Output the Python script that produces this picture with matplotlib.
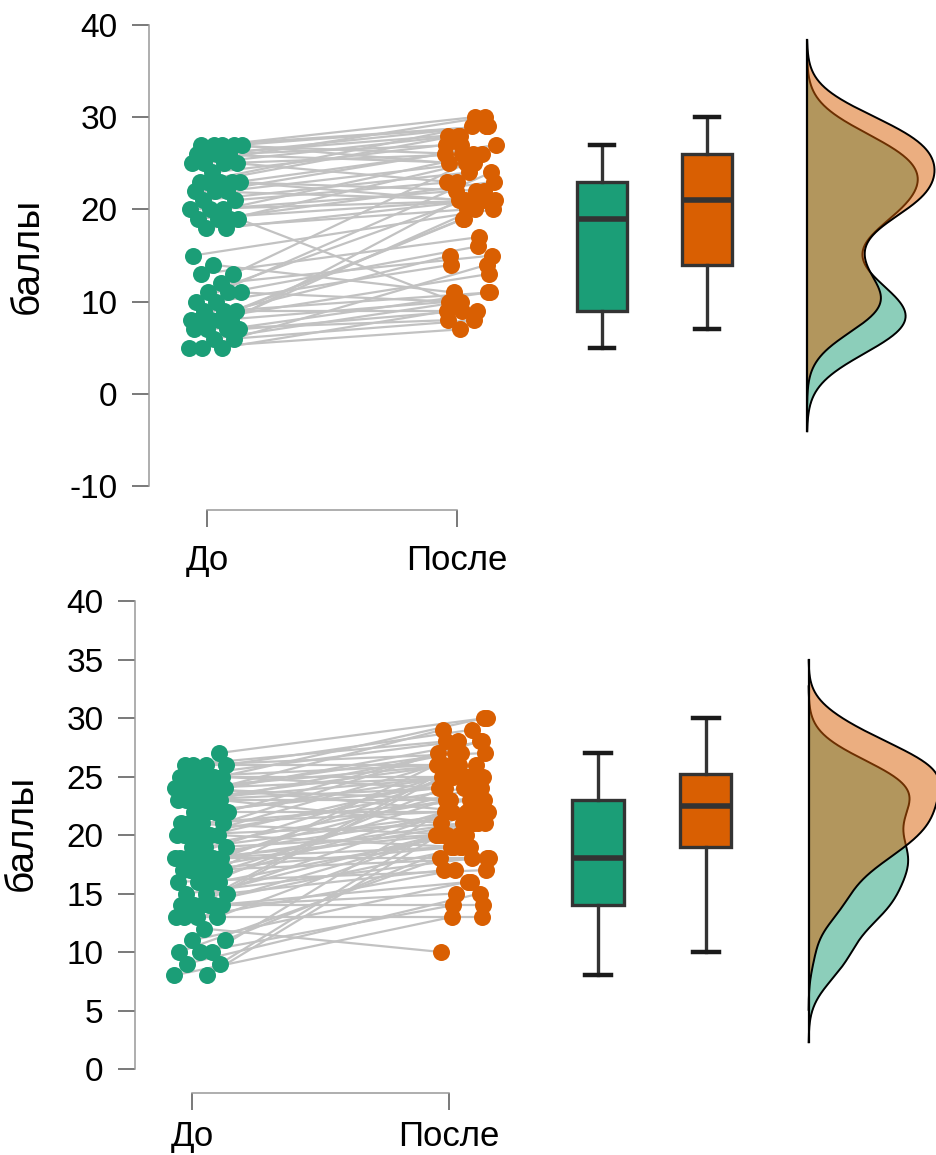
"""
raincloud-style before/after plot: paired dots, boxplots and half densities.
Two panels, same layout, different samples.
"""

import numpy as np
import matplotlib
matplotlib.use('Agg')
import matplotlib.pyplot as plt

plt.rcParams['font.family'] = ['Liberation Sans', 'DejaVu Sans']

GREEN = '#1b9e77'
ORANGE = '#d95f02'

group_labels = ['До', 'После']
y_label = 'баллы'

# top panel - paired scores, same index = same person
top_before = [5, 5, 5, 6, 6, 7, 7, 7, 7, 8, 8, 8, 8, 8, 9, 9, 9, 10, 10, 11, 11, 11, 12, 13, 13, 14, 15,
              18, 18, 19, 19, 19, 19, 20, 20, 20, 21, 21, 22, 22, 22, 23, 23, 23, 23, 23, 24,
              25, 25, 25, 25, 26, 26, 26, 26, 27, 27, 27, 27, 27]
top_after = [7, 9, 14, 8, 10, 8, 11, 20, 9, 10, 13, 22, 19, 15, 11, 9, 19, 14, 24, 16, 21, 10, 15, 17, 25, 11, 20,
             21, 20, 10, 23, 21, 25, 22, 21, 26, 24, 23, 27, 21, 25, 28, 26, 22, 29, 21, 27,
             30, 26, 28, 23, 29, 25, 27, 28, 29, 30, 26, 25, 29]
top_yticks = [-10, 0, 10, 20, 30, 40]

# bottom panel
bottom_before = [8, 8, 9, 9, 10, 10, 10, 11, 11, 12, 13, 13, 13, 13, 14, 14, 14, 14, 14, 14, 14,
                 15, 15, 15, 16, 16, 16, 16, 17, 17, 17, 17, 17, 18, 18, 18, 18, 18, 18, 18, 18,
                 19, 19, 19, 20, 20, 20, 20, 20, 21, 21, 21, 21, 22, 22, 22, 22,
                 23, 23, 23, 23, 23, 23, 24, 24, 24, 24, 24, 24, 24, 25, 25, 25, 25, 25,
                 26, 26, 26, 26, 27]
bottom_after = [13, 20, 15, 22, 14, 18, 24, 16, 19, 10, 13, 21, 17, 25, 14, 19, 15, 20, 23, 16, 26,
                17, 21, 18, 20, 22, 17, 25, 19, 23, 18, 21, 27, 20, 22, 24, 19, 25, 18, 26, 21,
                23, 20, 22, 24, 19, 26, 21, 25, 22, 27, 23, 20, 25, 24, 28, 22,
                26, 21, 23, 25, 27, 24, 28, 22, 26, 29, 25, 23, 27, 26, 30, 25, 28, 24,
                27, 29, 26, 28, 30]
bottom_yticks = [0, 5, 10, 15, 20, 25, 30, 35, 40]

W, H = 937, 1155


def kde(vals):
    # gaussian kde with R's default bandwidth (nrd0), cut = 3 bw
    v = np.asarray(vals, dtype=float)
    n = len(v)
    q75, q25 = np.percentile(v, [75, 25])
    bw = 0.9 * min(v.std(ddof=1), (q75 - q25) / 1.34) * n ** -0.2
    grid = np.linspace(v.min() - 3 * bw, v.max() + 3 * bw, 512)
    d = np.exp(-0.5 * ((grid[:, None] - v[None, :]) / bw) ** 2).sum(axis=1)
    d = d / (n * bw * np.sqrt(2 * np.pi))
    return grid, d


def draw_panel(ax, before, after, yticks, ylim, xlim, xpad=12):
    before = np.asarray(before)
    after = np.asarray(after)
    n = len(before)

    # jitter so the dots don't sit on top of each other
    idx = np.arange(n)
    jit1 = -0.07 + 0.21 * ((idx * 0.618034) % 1)
    jit2 = -0.05 + 0.21 * ((idx * 0.754878 + 0.3) % 1)
    x1 = 1 + jit1
    x2 = 2 + jit2

    for i in range(n):
        ax.plot([x1[i], x2[i]], [before[i], after[i]], color='#c2c2c2', lw=1.6, zorder=1)
    ax.scatter(x1, before, s=150, color=GREEN, linewidths=0, zorder=3)
    ax.scatter(x2, after, s=150, color=ORANGE, linewidths=0, zorder=3)

    bp = ax.boxplot([before, after], positions=[2.58, 3.0], widths=0.2, capwidths=0.1,
                    patch_artist=True, showfliers=False, manage_ticks=False,
                    boxprops=dict(edgecolor='#333333', linewidth=2.4),
                    medianprops=dict(color='#333333', linewidth=4),
                    whiskerprops=dict(color='#333333', linewidth=2.4),
                    capprops=dict(color='#1a1a1a', linewidth=3.2))
    for patch, c in zip(bp['boxes'], [GREEN, ORANGE]):
        patch.set_facecolor(c)

    # half densities, both on one scale
    base = 3.4
    g1, d1 = kde(before)
    g2, d2 = kde(after)
    scale = 0.51 / max(d1.max(), d2.max())
    ax.fill_betweenx(g1, base, base + d1 * scale, color=GREEN, alpha=0.5, lw=0, zorder=4)
    ax.plot(base + d1 * scale, g1, color='black', lw=1.4, zorder=5)
    ax.fill_betweenx(g2, base, base + d2 * scale, color=ORANGE, alpha=0.5, lw=0, zorder=6)
    ax.plot(base + d2 * scale, g2, color='black', lw=1.4, zorder=7)
    ax.plot([base, base], [min(g1.min(), g2.min()), max(g1.max(), g2.max())],
            color='black', lw=1.6, zorder=8)

    ax.set_xlim(*xlim)
    ax.set_ylim(*ylim)
    ax.set_yticks(yticks)
    ax.set_yticklabels([str(t) for t in yticks])
    ax.set_xticks([1, 2])
    ax.set_xticklabels(group_labels)

    for s in ['top', 'right']:
        ax.spines[s].set_visible(False)
    ax.spines['left'].set_bounds(yticks[0], yticks[-1])
    ax.spines['bottom'].set_bounds(1, 2)
    for s in ['left', 'bottom']:
        ax.spines[s].set_color('#999999')
        ax.spines[s].set_linewidth(1.1)
    ax.tick_params(axis='both', direction='out', length=12.5, width=1.1,
                   color='#555555', labelsize=24)
    ax.tick_params(axis='x', pad=xpad, labelsize=25)
    ax.tick_params(axis='y', pad=10)


fig = plt.figure(figsize=(W / 100, H / 100), dpi=100)

ax_top = fig.add_axes([149 / W, 1 - 510 / H, (W - 149) / W, (510 - 15) / H])
draw_panel(ax_top, top_before, top_after, top_yticks, (-12.57, 41.06), (0.768, 3.92))

ax_bot = fig.add_axes([135 / W, 1 - 1093 / H, (W - 135) / W, (1093 - 590) / H])
draw_panel(ax_bot, bottom_before, bottom_after, bottom_yticks, (-2.05, 40.94), (0.778, 3.90),
           xpad=7)

fig.text(28 / W, 1 - 256 / H, y_label, rotation=90, ha='center', va='center', fontsize=28)
fig.text(22 / W, 1 - 833 / H, y_label, rotation=90, ha='center', va='center', fontsize=28)

fig.savefig('out.png', dpi=100)
